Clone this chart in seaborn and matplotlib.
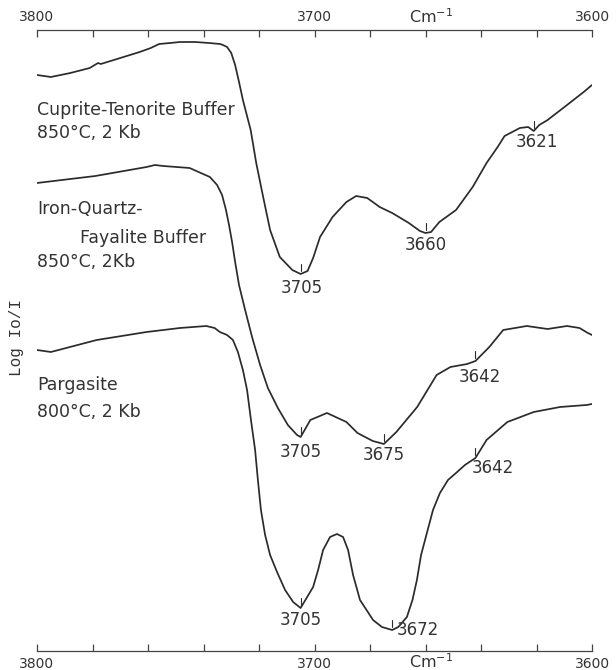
import numpy as np
import pandas as pd
import matplotlib
matplotlib.use("Agg")
import matplotlib.pyplot as plt
import seaborn as sns
from matplotlib.ticker import FixedLocator, FuncFormatter

# --- spectra: wavenumber (cm^-1) and offset absorbance (log Io/I, arbitrary offset) ---
cuprite_wn = [3800, 3795, 3788, 3781, 3778, 3777, 3770, 3763, 3759, 3756, 3752, 3748.5,
              3743, 3738, 3734, 3733, 3731.5, 3730, 3728.6, 3727.2, 3725.8, 3723, 3721,
              3718.5, 3716, 3712.5, 3708, 3705, 3702.5, 3700.5, 3698, 3693.5, 3688.5,
              3685, 3681, 3676.5, 3672, 3666, 3662, 3660, 3658, 3655, 3649, 3643, 3638,
              3634, 3631.5, 3626, 3623, 3621, 3619, 3616, 3609, 3603, 3600]
cuprite_abs = [5.76, 5.74, 5.78, 5.83, 5.88, 5.87, 5.93, 5.99, 6.03, 6.07, 6.08, 6.09,
               6.09, 6.08, 6.07, 6.06, 6.04, 5.98, 5.86, 5.69, 5.51, 5.21, 4.88,
               4.54, 4.21, 3.94, 3.81, 3.77, 3.80, 3.93, 4.14, 4.34, 4.49,
               4.55, 4.53, 4.44, 4.38, 4.28, 4.20, 4.18, 4.19, 4.29, 4.41, 4.64, 4.88,
               5.04, 5.15, 5.23, 5.24, 5.20, 5.26, 5.31, 5.46, 5.59, 5.66]

iqf_wn = [3800, 3779, 3760.5, 3757.5, 3754.5, 3745, 3737.7, 3735.1, 3733.3, 3731.9,
          3730.8, 3729.7, 3728.6, 3727.2, 3725.0, 3722.5, 3719.6, 3716.8, 3713.2,
          3709.6, 3706.3, 3705, 3701.5, 3695.5, 3688.5, 3684.5, 3679, 3675, 3670.5,
          3663, 3656, 3651, 3645, 3642, 3637, 3632, 3623.5, 3616, 3609, 3604.5,
          3601.5, 3600]
iqf_abs = [4.68, 4.75, 4.84, 4.86, 4.85, 4.83, 4.74, 4.66, 4.56, 4.41,
           4.26, 4.09, 3.89, 3.66, 3.41, 3.14, 2.86, 2.63, 2.43,
           2.26, 2.16, 2.14, 2.31, 2.38, 2.29, 2.18, 2.10, 2.07, 2.19,
           2.44, 2.76, 2.84, 2.87, 2.90, 3.04, 3.21, 3.25, 3.22, 3.25, 3.23,
           3.18, 3.16]

parg_wn = [3800, 3795, 3778.5, 3760.5, 3748.5, 3739, 3736, 3734.1, 3731.5, 3729.4,
           3727.6, 3725.8, 3724.3, 3722.9, 3721.4, 3720.4, 3719.3, 3717.8, 3716.0,
           3713.5, 3710.6, 3707.7, 3705, 3700.5, 3698.7, 3696.9, 3694.4, 3691.9,
           3689.7, 3687.9, 3686.1, 3683.6, 3678.9, 3675.7, 3672, 3669.8, 3666.7,
           3664.7, 3663.1, 3661.6, 3659.5, 3657.3, 3654.8, 3651.9, 3648.6, 3645.8,
           3642, 3638, 3630.5, 3621, 3611.5, 3602, 3600]
parg_abs = [3.01, 2.99, 3.11, 3.19, 3.23, 3.25, 3.23, 3.19, 3.16, 3.11,
            2.99, 2.81, 2.61, 2.31, 2.01, 1.71, 1.41, 1.16, 0.96,
            0.79, 0.61, 0.49, 0.43, 0.64, 0.81, 1.01, 1.14, 1.17,
            1.14, 1.01, 0.76, 0.51, 0.31, 0.24, 0.21, 0.24, 0.34,
            0.51, 0.71, 0.96, 1.18, 1.41, 1.58, 1.71, 1.79, 1.86,
            1.93, 2.11, 2.29, 2.39, 2.44, 2.46, 2.47]

# band positions marked on each spectrum: (band, y at band, label wn, label y, ha)
bands = [
    (3705, 3.77, 3704.5, 3.63, "center"),
    (3660, 4.18, 3660.0, 4.06, "center"),
    (3621, 5.20, 3620.0, 5.09, "center"),
    (3705, 2.14, 3705.0, 1.99, "center"),
    (3675, 2.07, 3675.0, 1.96, "center"),
    (3642, 2.90, 3640.5, 2.74, "center"),
    (3705, 0.43, 3705.0, 0.31, "center"),
    (3672, 0.21, 3670.5, 0.21, "left"),
    (3642, 1.93, 3643.5, 1.83, "left"),
]

sample_labels = [
    ("Cuprite-Tenorite Buffer", 3800, 5.41),
    ("850°C, 2 Kb", 3800, 5.18),
    ("Iron-Quartz-", 3800, 4.42),
    ("Fayalite Buffer", 3784.5, 4.13),
    ("850°C, 2Kb", 3800, 3.89),
    ("Pargasite", 3800, 2.66),
    ("800°C, 2 Kb", 3800, 2.39),
]

x_ticks = list(range(3800, 3599, -20))
x_labelled = [3800, 3700, 3600]

sns.set_style("white")
plt.rcParams["font.family"] = ["DejaVu Sans"]

ink = "#2b2b2b"
fig = plt.figure(figsize=(6.16, 6.70), dpi=100)
ax = fig.add_axes([37 / 616, 1 - 651 / 670, 555 / 616, 621 / 670])

for wn, ab in [(cuprite_wn, cuprite_abs), (iqf_wn, iqf_abs), (parg_wn, parg_abs)]:
    df = pd.DataFrame({"wavenumber": wn, "absorbance": ab})
    sns.lineplot(data=df, x="wavenumber", y="absorbance", ax=ax, color=ink,
                 linewidth=1.25, estimator=None, sort=False)

ax.set_xlim(3800, 3600)
ax.set_ylim(0, 6.21)
ax.set_xlabel("")
ax.set_ylabel("")
ax.set_yticks([])

for side in ["left", "right"]:
    ax.spines[side].set_visible(False)
for side in ["top", "bottom"]:
    ax.spines[side].set_visible(True)
    ax.spines[side].set_color("#444444")
    ax.spines[side].set_linewidth(0.9)

ax.xaxis.set_major_locator(FixedLocator(x_ticks))
ax.xaxis.set_major_formatter(FuncFormatter(lambda v, p: f"{int(round(v))}" if int(round(v)) in x_labelled else ""))
ax.tick_params(axis="x", which="major", direction="in", length=5, width=0.9,
               color="#444444", top=True, bottom=True, labeltop=True, labelbottom=True,
               labelsize=10, labelcolor="#333333", pad=4)

# band markers and values
for band, yb, lx, ly, ha in bands:
    ax.plot([band, band], [yb + 0.03, yb + 0.10], color=ink, linewidth=0.8)
    ax.text(lx, ly, str(band), ha=ha, va="center", fontsize=12, color="#333333")

for txt, x, y in sample_labels:
    ax.text(x, y, txt, ha="left", va="center", fontsize=12.5, color="#333333")

fig.text(17 / 616, 1 - 337 / 670, "Log Io/I", rotation=90, ha="center", va="center",
         fontsize=11.5, family=["Liberation Mono", "DejaVu Sans Mono"], color="#333333")
fig.text(431 / 616, 1 - 17 / 670, r"Cm$^{-1}$", ha="center", va="center",
         fontsize=11.5, color="#333333")
fig.text(431 / 616, 1 - 662 / 670, r"Cm$^{-1}$", ha="center", va="center",
         fontsize=11.5, color="#333333")

fig.savefig("out.png", dpi=100, facecolor="white")
